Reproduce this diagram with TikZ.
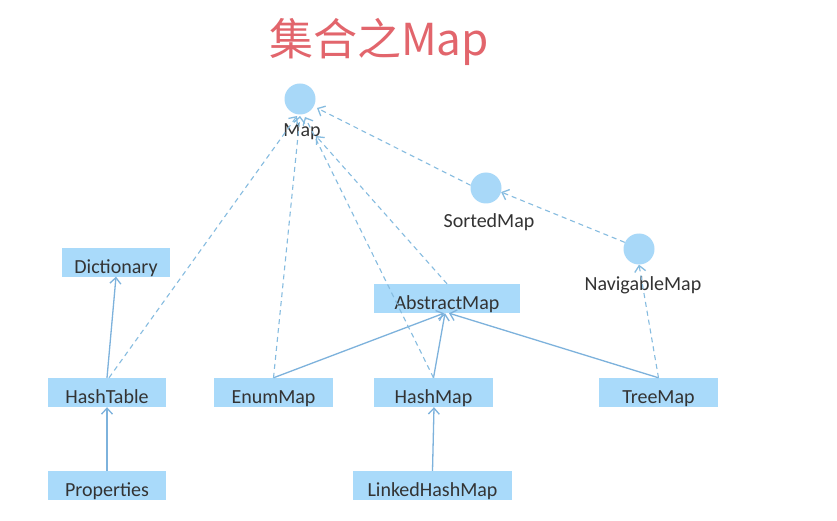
\documentclass[tikz,border=0pt]{standalone}
\usepackage{fontspec}
\setmainfont{Carlito}
\newfontfamily\cjk{Noto Sans CJK SC}
\usetikzlibrary{arrows.meta}
\definecolor{boxfill}{HTML}{A9DAFA}
\definecolor{circfill}{HTML}{A8D8F8}
\definecolor{linec}{HTML}{7DB2DC}
\definecolor{dashc}{HTML}{86BCE0}
\definecolor{titlec}{HTML}{E2656C}
\definecolor{txt}{HTML}{333333}
\tikzset{
  cls/.style={fill=boxfill,draw=none,minimum height=29pt,inner sep=0pt,text height=22pt,text depth=0pt,text=txt,font=\fontsize{20}{20}\selectfont},
  iface/.style={circle,fill=circfill,draw=none,minimum size=31pt,inner sep=0pt},
  lbl/.style={text=txt,font=\fontsize{20}{20}\selectfont,inner sep=0pt},
  ext/.style={draw=linec,line width=1.3pt,-{Straight Barb[length=6pt,width=11pt,line width=1.3pt]}},
  impl/.style={draw=dashc,line width=1.1pt,dash pattern=on 5pt off 4pt,-{Straight Barb[length=6pt,width=11pt,line width=1.3pt]}}
}
\begin{document}
\begin{tikzpicture}[x=1pt,y=-1pt]
\useasboundingbox[fill=white] (0,0) rectangle (837,521);
\node[text=titlec,font=\cjk\fontsize{44}{44}\selectfont,inner sep=0pt] (title) at (379,42) {集合之Map};
% interfaces
\node[iface] (map) at (300,99) {};
\node[lbl] (maplbl) at (302,132) {Map};
\node[iface] (sorted) at (486,188) {};
\node[lbl] (sortedlbl) at (489,222) {SortedMap};
\node[iface] (nav) at (639,249) {};
\node[lbl] (navlbl) at (643,285) {NavigableMap};
% classes
\node[cls,minimum width=108pt] (dict) at (116,262) {Dictionary};
\node[cls,minimum width=146pt] (abs) at (447,298.5) {AbstractMap};
\node[cls,minimum width=118pt] (htab) at (107,392.5) {HashTable};
\node[cls,minimum width=119pt] (enum) at (273.5,392.5) {EnumMap};
\node[cls,minimum width=119pt] (hmap) at (433.5,392.5) {HashMap};
\node[cls,minimum width=119pt] (tmap) at (658.5,392.5) {TreeMap};
\node[cls,minimum width=118pt] (props) at (107,485.5) {Properties};
\node[cls,minimum width=159pt] (lhm) at (432.5,485.5) {LinkedHashMap};
% end points
\coordinate (m1) at (297,116);
\coordinate (m2) at (300,116);
\coordinate (m3) at (305,117);
\coordinate (m4) at (316,136);
\coordinate (m5) at (317,108);
% solid inheritance
\draw[ext] (props.north) -- (htab.south);
\draw[ext] (htab.north) -- (dict.south);
\draw[ext] (lhm.north) -- ([xshift=0.5pt]hmap.south);
\draw[ext] (enum.north) -- ([xshift=-3pt]abs.south);
\draw[ext] (hmap.north) -- ([xshift=-2pt]abs.south);
\draw[ext] (tmap.north) -- ([xshift=2pt]abs.south);
% dashed implementation
\draw[impl] ([xshift=2pt]htab.north) -- (m1);
\draw[impl] (enum.north) -- (m2);
\draw[impl] (hmap.north) -- (m3);
\draw[impl] (abs.north) -- (m4);
\draw[impl] (sorted.170) -- (m5);
\draw[impl] (nav.155) -- (sorted.-15);
\draw[impl] (tmap.north) -- (nav.south);
\end{tikzpicture}
\end{document}
